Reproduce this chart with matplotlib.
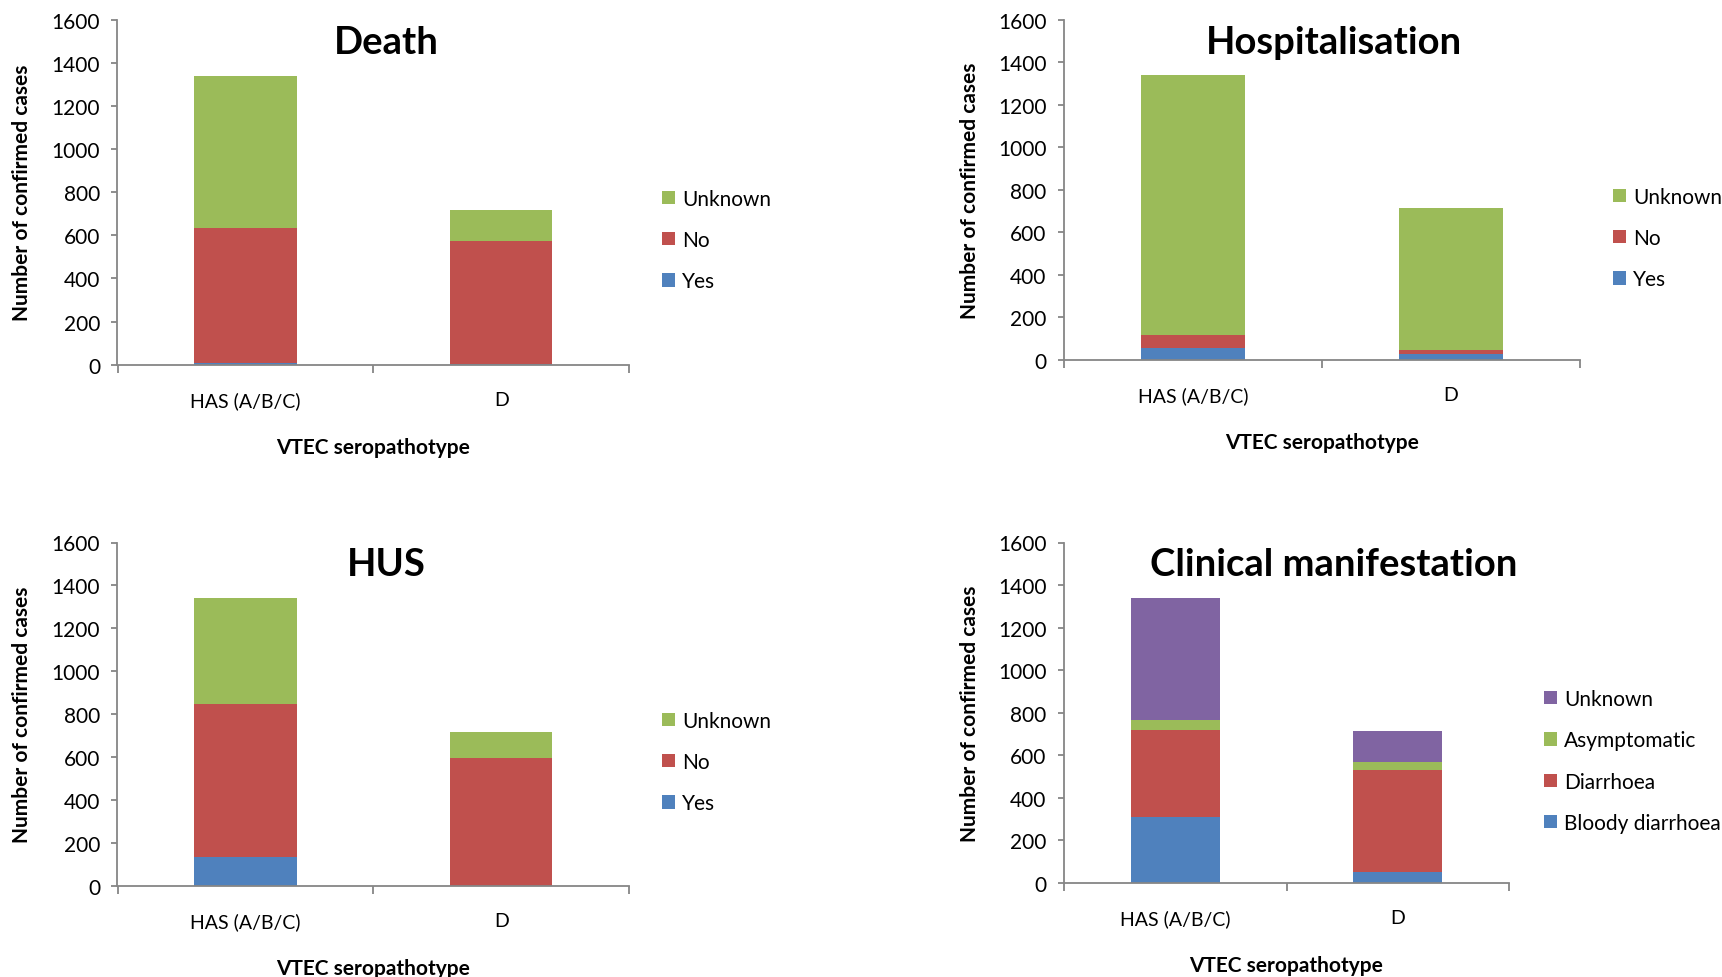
import matplotlib
matplotlib.use("Agg")
import matplotlib.pyplot as plt
import numpy as np
from matplotlib.patches import Patch

plt.rcParams['font.family'] = ['Lato', 'DejaVu Sans']

# serotype groups on the x axis
groups = ["HAS (A/B/C)", "D"]

# Death
death_yes = [7, 1]
death_no = [629, 574]
death_unknown = [705, 141]

# Hospitalisation
hosp_yes = [56, 27]
hosp_no = [63, 22]
hosp_unknown = [1222, 667]

# HUS
hus_yes = [134, 0]
hus_no = [713, 595]
hus_unknown = [494, 121]

# Clinical manifestation
clin_bloody = [310, 50]
clin_diarrhoea = [411, 483]
clin_asympt = [44, 34]
clin_unknown = [576, 149]

yn_labels = ["Yes", "No", "Unknown"]
clin_labels = ["Bloody diarrhoea", "Diarrhoea", "Asymptomatic", "Unknown"]

BLUE = "#4F81BD"
RED = "#C0504D"
GREEN = "#9BBB59"
PURPLE = "#8064A2"
AXIS_GREY = "#868686"

W, H = 1722, 978
fig = plt.figure(figsize=(W / 100, H / 100), dpi=100)


def px_axes(left, right, top, bottom):
    return fig.add_axes([left / W, 1 - bottom / H, (right - left) / W, (bottom - top) / H])


def stacked(ax, series, colors, labels):
    x = np.arange(len(groups))
    base = np.zeros(len(groups))
    handles = []
    for vals, c, lab in zip(series, colors, labels):
        ax.bar(x, vals, width=0.4, bottom=base, color=c, edgecolor="none", label=lab)
        base += np.array(vals)
        handles.append(Patch(facecolor=c, edgecolor="none", label=lab))
    ax.set_xlim(-0.5, 1.5)
    ax.set_ylim(0, 1600)
    ax.set_yticks(range(0, 1601, 200))
    ax.set_xticks(x)
    ax.set_xticklabels(groups)
    ax.set_xticks([-0.5, 0.5, 1.5], minor=True)
    ax.tick_params(axis="x", which="major", length=0, pad=19, labelsize=14)
    ax.tick_params(axis="x", which="minor", length=6, width=1.3, color=AXIS_GREY, direction="out")
    ax.tick_params(axis="y", length=4.5, width=1.3, color=AXIS_GREY, direction="out",
                   pad=8, labelsize=15)
    for s in ("top", "right"):
        ax.spines[s].set_visible(False)
    for s in ("left", "bottom"):
        ax.spines[s].set_color(AXIS_GREY)
        ax.spines[s].set_linewidth(1.3)
    return handles[::-1]


def decorate(ax, title, title_xy, ylab_x, leg_xy, handles):
    fig.text(title_xy[0] / W, 1 - title_xy[1] / H, title, ha="center", va="center",
             fontsize=27.5, fontweight="bold")
    ax.set_ylabel("Number of confirmed cases", fontsize=15, fontweight="bold", va="center")
    ax.yaxis.set_label_coords(ylab_x, 0.5)
    ax.set_xlabel("VTEC seropathotype", fontsize=15, fontweight="bold", va="center")
    ax.xaxis.set_label_coords(0.5, -0.24)
    ax.legend(handles=handles, loc="center left", frameon=False,
              bbox_to_anchor=(leg_xy[0] / W, 1 - leg_xy[1] / H), bbox_transform=fig.transFigure,
              fontsize=15, handlelength=0.6, handleheight=0.6, handletextpad=0.35,
              labelspacing=1.02, borderaxespad=0, borderpad=0)


ax1 = px_axes(117.5, 629, 20.9, 365.6)
h = stacked(ax1, [death_yes, death_no, death_unknown], [BLUE, RED, GREEN], yn_labels)
decorate(ax1, "Death", (386, 43), -0.187, (662, 241), h)

ax2 = px_axes(1064, 1580, 20.9, 361)
h = stacked(ax2, [hosp_yes, hosp_no, hosp_unknown], [BLUE, RED, GREEN], yn_labels)
decorate(ax2, "Hospitalisation", (1334, 43), -0.182, (1613, 239), h)

ax3 = px_axes(117.5, 629, 543.5, 887)
h = stacked(ax3, [hus_yes, hus_no, hus_unknown], [BLUE, RED, GREEN], yn_labels)
decorate(ax3, "HUS", (386, 565), -0.187, (662, 763), h)

ax4 = px_axes(1064, 1509, 543.5, 884)
h = stacked(ax4, [clin_bloody, clin_diarrhoea, clin_asympt, clin_unknown],
            [BLUE, RED, GREEN, PURPLE], clin_labels)
decorate(ax4, "Clinical manifestation", (1334, 565), -0.211, (1544, 762), h)

fig.savefig("out.png", dpi=100)
